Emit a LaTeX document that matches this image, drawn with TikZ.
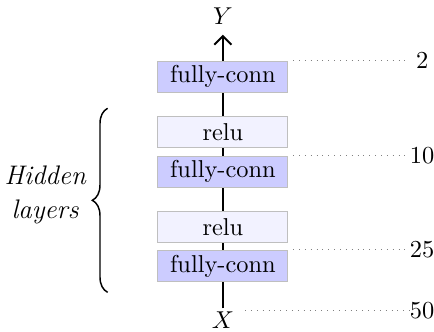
\documentclass[tikz,border=0pt]{standalone}
\usetikzlibrary{positioning,decorations.pathreplacing,arrows.meta}
\tikzset{
    fcbox/.style={draw=gray!50, fill=blue!20, minimum width=1.87cm, minimum height=0.45cm, inner sep=0pt},
    relubox/.style={fcbox, fill=blue!5},
    dimline/.style={dotted, gray},
    numlabel/.style={minimum width=0.35cm, inner sep=0pt},
}
\begin{document}
\begin{tikzpicture}
        \useasboundingbox (0,0) rectangle (6.25,4.77);
        \node[fcbox] (fc3) at (3.21,0.94) {fully-conn};
        \node[relubox, above=0.1cm of fc3] (relu2) {relu};
        \node[fcbox, above=0.33cm of relu2] (fc2) {fully-conn};
        \node[relubox, above=0.11cm of fc2] (relu1) {relu};
        \node[fcbox, above=0.33cm of relu1] (fc1) {fully-conn};
        \node (Y) at (3.21,4.53) {$Y$};
        \node (X) at (3.21,0.16) {$X$};
        \coordinate (yout) at (3.21,4.27);
        \coordinate (xin) at (3.21,0.33);

        \draw[thick] (xin) -- (fc3);
        \draw[thick] (fc3) -- (relu2);
        \draw[thick] (relu2) -- (fc2);
        \draw[thick] (fc2) -- (relu1);
        \draw[thick] (relu1) -- (fc1);
        \draw[thick, -{Straight Barb[length=3.5pt, width=7pt]}] (fc1) -- (yout);

        % layer sizes
        \node[numlabel] (n2) at (fc1.north -| 6.08,0) {2};
        \node[numlabel] (n10) at (fc2.north -| 6.08,0) {10};
        \node[numlabel] (n25) at (fc3.north -| 6.08,0) {25};
        \node[numlabel] (n50) at (6.08,0.30) {50};
        \coordinate (s50) at (3.53,0.30);
        \draw[dimline] ([xshift=0.07cm]fc1.north east) -- (n2.west);
        \draw[dimline] ([xshift=0.07cm]fc2.north east) -- (n10.west);
        \draw[dimline] ([xshift=0.07cm]fc3.north east) -- (n25.west);
        \draw[dimline] (s50) -- (n50.west);

        \draw[semithick, decorate, decoration={brace, amplitude=0.22cm}] (1.55,0.56) -- (1.55,3.21);
        \node[font=\fontsize{11}{14}\selectfont\itshape, align=center] (hidden) at (0.65,1.96) {Hidden\\layers};
    \end{tikzpicture}
\end{document}
